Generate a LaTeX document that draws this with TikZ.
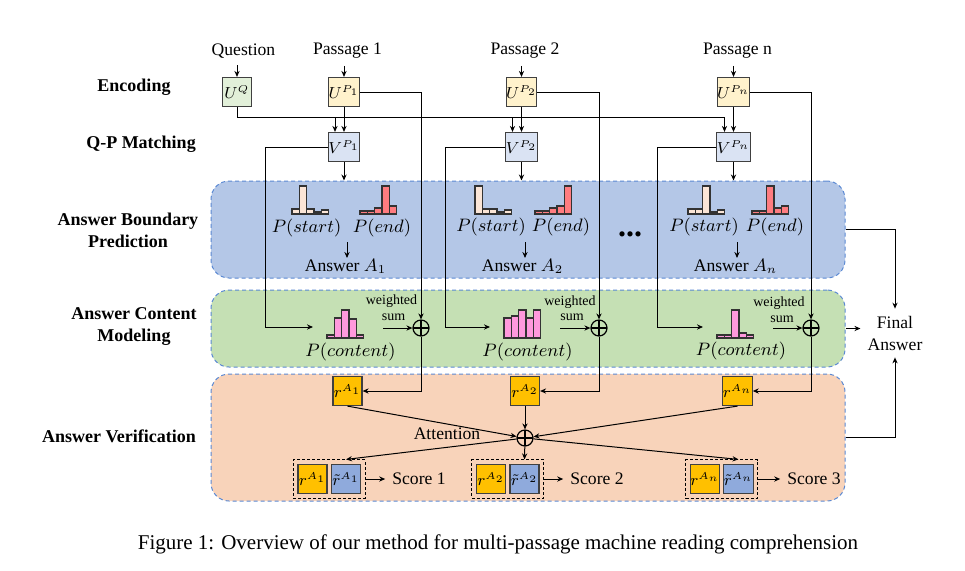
\documentclass[tikz,border=0pt]{standalone}
\usepackage{fontspec}
\setmainfont{Liberation Serif}
\usetikzlibrary{arrows.meta,fit}

\definecolor{encq}{HTML}{E2F0D9}
\definecolor{encp}{HTML}{FFF2CC}
\definecolor{match}{HTML}{DAE3F3}
\definecolor{bandblue}{HTML}{B4C7E7}
\definecolor{bandgreen}{HTML}{C5E0B4}
\definecolor{bandorange}{HTML}{F8D3BA}
\definecolor{bandline}{HTML}{5B89D3}
\definecolor{rgold}{HTML}{FFC000}
\definecolor{rblue}{HTML}{8FAADC}
\definecolor{pstart}{HTML}{FBE5D6}
\definecolor{pend}{HTML}{FF7C80}
\definecolor{pcont}{HTML}{FF99DD}

% x, base y, bar heights, colour
\newcommand{\bars}[4]{%
  \foreach \bh [count=\bi from 0] in {#3}
    \draw[barbox, fill=#4] ({#1+\bi*7.3},#2) rectangle ++(7.3,-\bh);
}

\begin{document}
\begin{tikzpicture}[x=0.5pt, y=-0.5pt, line width=0.5pt,
    >={Stealth[length=3pt,width=2.6pt]},
    every node/.style={font=\fontsize{8.8}{11}\selectfont},
    hd/.style={font=\bfseries\fontsize{9}{11}\selectfont, align=center},
    encbox/.style={draw=black!75, line width=0.6pt, minimum size=14.5pt, inner sep=0pt, font=\fontsize{7.6}{9}\selectfont},
    bandbox/.style={draw=bandline, dash pattern=on 2pt off 1.5pt, rounded corners=9pt, minimum width=317pt},
    barbox/.style={draw=black!80, line width=0.6pt},
    sumnode/.style={circle, draw, line width=0.6pt, minimum size=8pt, inner sep=0pt,
      path picture={\draw[line width=0.6pt] (path picture bounding box.north)--(path picture bounding box.south)
        (path picture bounding box.west)--(path picture bounding box.east);}},
    grpbox/.style={draw, dash pattern=on 1.5pt off 1pt, inner sep=2pt},
    wlabel/.style={font=\fontsize{7}{8}\selectfont, inner sep=1pt},
    plabel/.style={font=\fontsize{9.5}{11}\selectfont, inner sep=1pt}]
    \useasboundingbox (0,0) rectangle (965,570);

    % bands
    \node[bandbox, fill=bandblue, minimum height=48.5pt] (bdy) at (528,229.5) {};
    \node[bandbox, fill=bandgreen, minimum height=38.5pt] (bgr) at (528,328.5) {};
    \node[bandbox, fill=bandorange, minimum height=63.5pt] (bor) at (528,437.5) {};

    \node[hd] (l1) at (134,87) {Encoding};
    \node[hd] (l2) at (141,144) {Q-P Matching};
    \node[hd] (l3) at (128,230.5) {Answer Boundary\\Prediction};
    \node[hd] (l4) at (134,327) {Answer Content\\Modeling};
    \node[hd] (l5) at (119,436) {Answer Verification};

    \node (q) at (243.5,51) {Question};
    \node (p1) at (347.5,51) {Passage 1};
    \node (p2) at (525,51) {Passage 2};
    \node (pn) at (737.5,51) {Passage n};

    \node[encbox, fill=encq] (uq) at (237,92) {$U^{Q}$};
    \node[encbox, fill=encp] (up1) at (344,92) {$U^{P_1}$};
    \node[encbox, fill=encp] (up2) at (521.5,92) {$U^{P_2}$};
    \node[encbox, fill=encp] (upn) at (733.5,92) {$U^{P_n}$};
    \node[encbox, fill=match] (vp1) at (344,147) {$V^{P_1}$};
    \node[encbox, fill=match] (vp2) at (521.5,147) {$V^{P_2}$};
    \node[encbox, fill=match] (vpn) at (733.5,147) {$V^{P_n}$};

    \draw[->] (uq|-q.south)--(uq);
    \draw[->] (up1|-p1.south)--(up1);
    \draw[->] (up2|-p2.south)--(up2);
    \draw[->] (upn|-pn.south)--(upn);

    \coordinate (k1) at (335,117);
    \coordinate (k2) at (512.5,117);
    \coordinate (kn) at (724.5,117);
    \draw (uq)--(uq|-kn)--(kn);
    \draw[->] (k1)--(k1|-vp1.north);
    \draw[->] (k2)--(k2|-vp2.north);
    \draw[->] (kn)--(kn|-vpn.north);
    \draw[->] (up1)--(vp1);
    \draw[->] (up2)--(vp2);
    \draw[->] (upn)--(vpn);
    \draw[->] (vp1)--(vp1|-bdy.north);
    \draw[->] (vp2)--(vp2|-bdy.north);
    \draw[->] (vpn)--(vpn|-bdy.north);

    % boundary prediction
    \bars{292}{214}{5,28,5,2,4}{pstart}
    \bars{360}{214}{3,3,6,28,8}{pend}
    \bars{475}{214}{28,5,5,2,4}{pstart}
    \bars{535}{214}{3,3,6,8,28}{pend}
    \bars{688}{214}{5,5,28,2,4}{pstart}
    \bars{752}{214}{3,3,28,6,8}{pend}

    \node[plabel] (ps1) at (306.5,228) {$P(start)$};
    \node[plabel] (pe1) at (382,228) {$P(end)$};
    \node[plabel] (ps2) at (491,227) {$P(start)$};
    \node[plabel] (pe2) at (561,227) {$P(end)$};
    \node[plabel] (psn) at (704,227) {$P(start)$};
    \node[plabel] (pen) at (775,227) {$P(end)$};
    \node (ans1) at (345.5,266) {Answer $A_1$};
    \node (ans2) at (522.5,266) {Answer $A_2$};
    \node (ansn) at (735.5,266) {Answer $A_n$};
    \draw[->] (347,242)--(347,258);
    \draw[->] (525,242)--(525,258);
    \draw[->] (737,242)--(737,258);
    \node[font=\bfseries\fontsize{16}{16}\selectfont] (dots) at (630,234) {...};

    % content modeling
    \bars{327}{338}{3,20,28,19,3}{pcont}
    \bars{504}{338}{20,22,28,20,28}{pcont}
    \bars{717}{338}{3,3,28,5,3}{pcont}
    \node[plabel] (pc1) at (350.5,352) {$P(content)$};
    \node[plabel] (pc2) at (527.5,352) {$P(content)$};
    \node[plabel] (pcn) at (741,351) {$P(content)$};

    \node[sumnode] (sum1) at (421,328) {};
    \node[sumnode] (sum2) at (599,328) {};
    \node[sumnode] (sumn) at (811,328) {};
    \node[wlabel] (w1) at (391.5,301) {weighted};
    \node[wlabel] (ws1) at (393.5,317) {sum};
    \node[wlabel] (w2) at (570,302) {weighted};
    \node[wlabel] (ws2) at (572,317) {sum};
    \node[wlabel] (wn) at (779,303) {weighted};
    \node[wlabel] (wsn) at (782,319) {sum};
    \coordinate (hout1) at (383,328);
    \coordinate (hout2) at (560,328);
    \coordinate (houtn) at (773,328);
    \draw[->] (hout1)--(sum1);
    \draw[->] (hout2)--(sum2);
    \draw[->] (houtn)--(sumn);

    \coordinate (cin1) at (313,327);
    \coordinate (cin2) at (490,327);
    \coordinate (cinn) at (703,327);
    \draw[->] (vp1.west)-- ++(-62.5,0)|-(cin1);
    \draw[->] (vp2.west)-- ++(-60,0)|-(cin2);
    \draw[->] (vpn.west)-- ++(-59,0)|-(cinn);
    \draw[->] (up1.east)-|(sum1);
    \draw[->] (up2.east)-|(sum2);
    \draw[->] (upn.east)-|(sumn);

    % verification
    \node[encbox, fill=rgold] (ra1) at (347.5,391) {$r^{A_1}$};
    \node[encbox, fill=rgold] (ra2) at (525,391) {$r^{A_2}$};
    \node[encbox, fill=rgold] (ran) at (737.5,391) {$r^{A_n}$};
    \draw[->] (sum1)|-(ra1);
    \draw[->] (sum2)|-(ra2);
    \draw[->] (sumn)|-(ran);

    \node[sumnode] (att) at (525,438) {};
    \node (attlbl) at (447,434) {Attention};
    \draw[->] (ra1.south)--(att);
    \draw[->] (ra2)--(att);
    \draw[->] (ran.south)--(att);

    \node[encbox, fill=rgold] (rb1) at (312.5,479) {$r^{A_1}$};
    \node[encbox, fill=rblue] (rt1) at (346,479) {$\tilde{r}^{A_1}$};
    \node[encbox, fill=rgold] (rb2) at (491,479) {$r^{A_2}$};
    \node[encbox, fill=rblue] (rt2) at (524.5,479) {$\tilde{r}^{A_2}$};
    \node[encbox, fill=rgold] (rbn) at (705,479) {$r^{A_n}$};
    \node[encbox, fill=rblue] (rtn) at (738.5,479) {$\tilde{r}^{A_n}$};
    \node[grpbox, fit=(rb1)(rt1)] (g1) {};
    \node[grpbox, fit=(rb2)(rt2)] (g2) {};
    \node[grpbox, fit=(rbn)(rtn)] (gn) {};
    \draw[->] (att)--(rt1.north|-g1.north);
    \draw[->] (att)--(rt2.north|-g2.north);
    \draw[->] (att)--(rtn.north|-gn.north);

    \node (sc1) at (419,479) {Score 1};
    \node (sc2) at (597,479) {Score 2};
    \node (scn) at (814,479) {Score 3};
    \draw[->] (g1)--(sc1);
    \draw[->] (g2)--(sc2);
    \draw[->] (gn)--(scn);

    % final answer
    \node[align=center] (fin) at (895,333) {Final\\Answer};
    \draw[->] (bdy.east)-|(fin);
    \draw[->] (bgr.east)--(bgr.east-|fin.west);
    \draw[->] (bor.east)-|(fin);
    %\draw (fin.north)--(fin.south);

    \node[font=\fontsize{10.5}{12}\selectfont] (cap) at (498,544) {Figure 1: Overview of our method for multi-passage machine reading comprehension};
\end{tikzpicture}
\end{document}
